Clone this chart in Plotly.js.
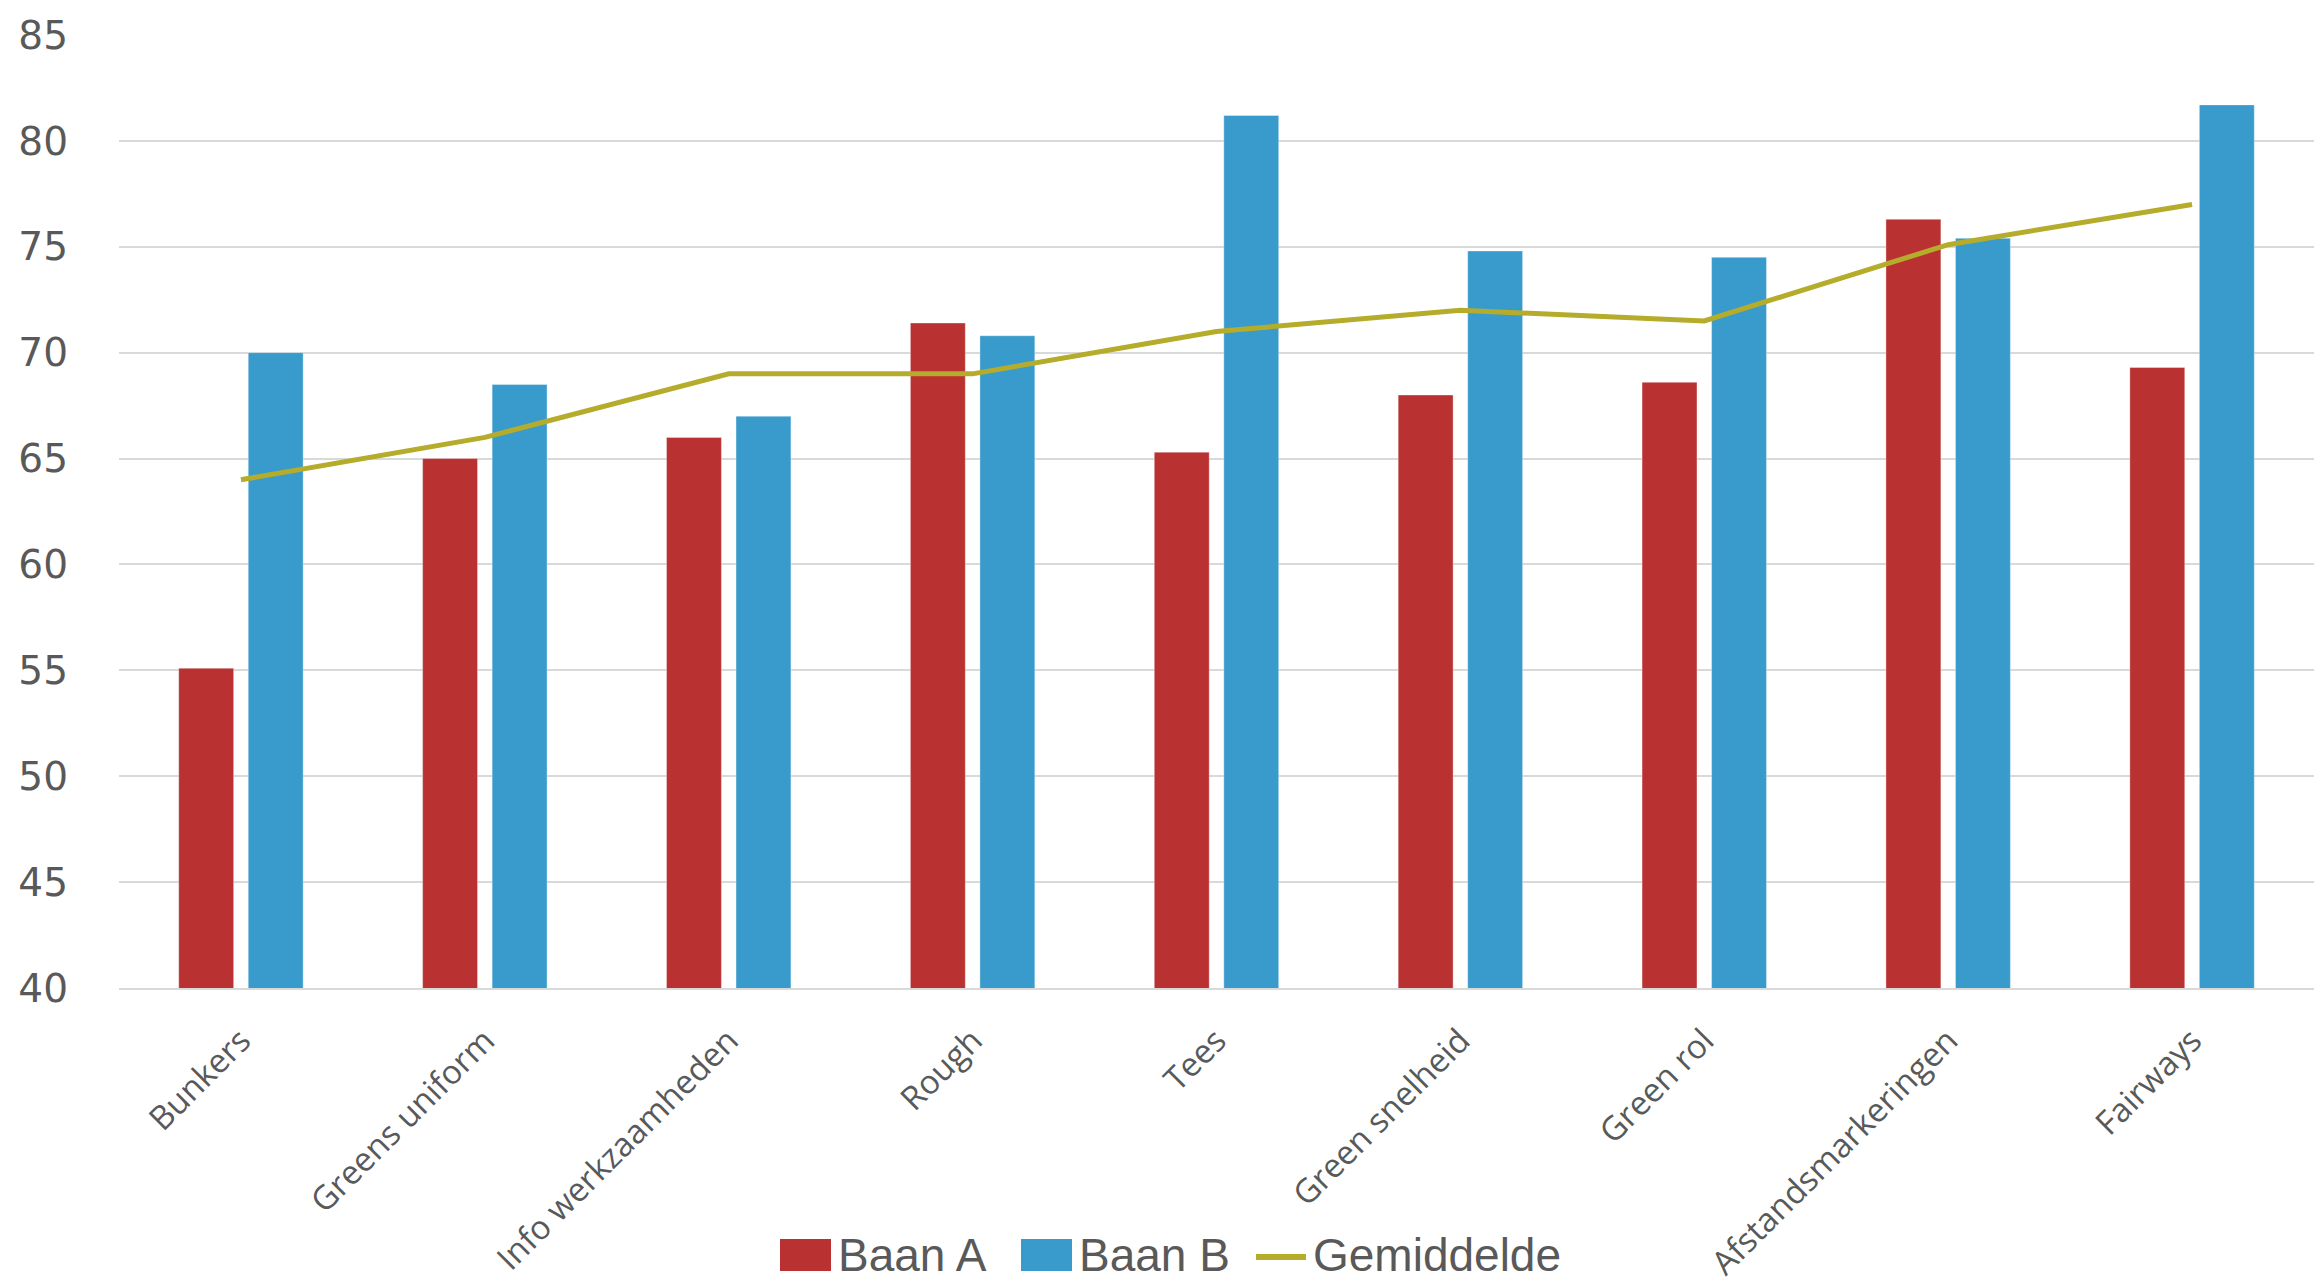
<!DOCTYPE html>
<html>
<head>
<meta charset="utf-8">
<script src="https://cdn.plot.ly/plotly-3.0.1.min.js"></script>
<style>
  html, body { margin: 0; padding: 0; background: #ffffff; }
  #chart { width: 2318px; height: 1283px; }
</style>
</head>
<body>
<div id="chart"></div>
<script>
// Categories and scores per course
const categories = ["Bunkers", "Greens uniform", "Info werkzaamheden", "Rough", "Tees",
                    "Green snelheid", "Green rol", "Afstandsmarkeringen", "Fairways"];
const baanA = [55.1, 65.0, 66.0, 71.4, 65.3, 68.0, 68.6, 76.3, 69.3];
const baanB = [70.0, 68.5, 67.0, 70.8, 81.2, 74.8, 74.5, 75.4, 81.7];
const gemiddelde = [64.0, 66.0, 69.0, 69.0, 71.0, 72.0, 71.5, 75.1, 77.0];
const yTicks = [40, 45, 50, 55, 60, 65, 70, 75, 80, 85];
const seriesNames = ["Baan A", "Baan B", "Gemiddelde"];

const RED = "#B93130";
const BLUE = "#399BCB";
const OLIVE = "#B5AC2B";
const TEXT = "#595959";

const W = 2318, H = 1283;
const M = { l: 119, r: 4, t: 35, b: 295 };
const plotW = W - M.l - M.r, plotH = H - M.t - M.b;
const px2x = (px) => (px - M.l) / plotW;
const px2y = (py) => (H - M.b - py) / plotH;

const traces = [
  { type: "bar", name: seriesNames[0], x: categories, y: baanA,
    marker: { color: RED, line: { color: "rgba(255,255,255,0.35)", width: 1 } },
    showlegend: false, hoverinfo: "x+y+name" },
  { type: "bar", name: seriesNames[1], x: categories, y: baanB,
    marker: { color: BLUE, line: { color: "rgba(255,255,255,0.35)", width: 1 } },
    showlegend: false, hoverinfo: "x+y+name" },
  { type: "scatter", mode: "lines", name: seriesNames[2], x: categories, y: gemiddelde,
    line: { color: OLIVE, width: 5 }, showlegend: false }
];

// Legend built from shapes and text so the keys can be drawn at full size
const legendY = 1255;
const legendFont = { family: "Liberation Sans Narrow, Liberation Sans, sans-serif", size: 46, color: TEXT };
const shapes = [
  { type: "rect", xref: "paper", yref: "paper",
    x0: px2x(780), x1: px2x(831), y0: px2y(legendY - 16), y1: px2y(legendY + 16),
    fillcolor: RED, line: { width: 0 } },
  { type: "rect", xref: "paper", yref: "paper",
    x0: px2x(1021), x1: px2x(1072), y0: px2y(legendY - 16), y1: px2y(legendY + 16),
    fillcolor: BLUE, line: { width: 0 } },
  { type: "line", xref: "paper", yref: "paper",
    x0: px2x(1256), x1: px2x(1306), y0: px2y(legendY + 2), y1: px2y(legendY + 2),
    line: { color: OLIVE, width: 6 } }
];
const annotations = [
  { text: seriesNames[0], x: px2x(836), xanchor: "left" },
  { text: seriesNames[1], x: px2x(1077), xanchor: "left" },
  { text: seriesNames[2], x: px2x(1311), xanchor: "left" }
].map(a => Object.assign({
  xref: "paper", yref: "paper", y: px2y(legendY), yanchor: "middle",
  showarrow: false, font: legendFont
}, a));

const layout = {
  width: W, height: H,
  margin: M,
  paper_bgcolor: "#ffffff",
  plot_bgcolor: "#ffffff",
  barmode: "group",
  bargap: 0.43,
  bargroupgap: 0.21,
  showlegend: false,
  xaxis: {
    type: "category",
    tickangle: -45,
    tickfont: { family: "Open Sans, sans-serif", size: 33, color: TEXT },
    showline: true, linecolor: "#d9d9d9", linewidth: 2,
    showgrid: false, ticks: "",
    ticklabelstandoff: 18
  },
  yaxis: {
    range: [40, 85],
    tickvals: yTicks,
    ticktext: yTicks.map(String),
    tickfont: { family: "DejaVu Sans, sans-serif", size: 39, color: TEXT },
    showgrid: true, gridcolor: "#d9d9d9", gridwidth: 2,
    zeroline: false, showline: false, ticks: "",
    ticklabelstandoff: 50
  },
  shapes: shapes,
  annotations: annotations
};

Plotly.newPlot("chart", traces, layout, { staticPlot: true, displayModeBar: false });
</script>
</body>
</html>
